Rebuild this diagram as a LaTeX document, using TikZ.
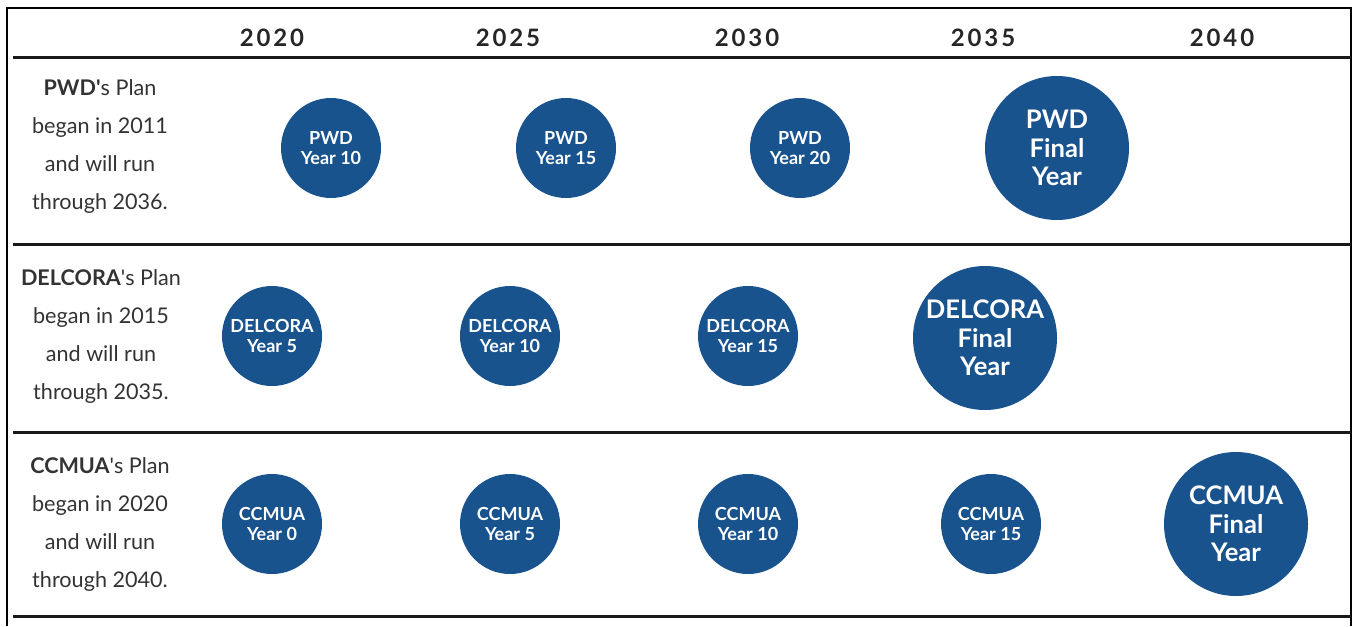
\documentclass[tikz,border=0pt]{standalone}
\usepackage{fontspec}
\setmainfont{Lato}
\usepackage{tikz}
\definecolor{planblue}{RGB}{24,83,141}
\definecolor{plantext}{RGB}{51,51,51}

\begin{document}
\begin{tikzpicture}[x=0.5pt, y=-0.5pt,
    yr/.style={font=\bfseries\fontsize{12}{14}\selectfont\addfontfeature{LetterSpace=12}, text=black!85},
    plan/.style={align=center, text=plantext, font=\fontsize{10.8}{19}\selectfont},
    dot/.style={shape=circle, fill=planblue, text=white, align=center, inner sep=0pt,
        minimum size=50pt, font=\bfseries\fontsize{9}{10}\selectfont},
    bigdot/.style={dot, minimum size=72pt, font=\bfseries\fontsize{12.8}{14.2}\selectfont}]
    \useasboundingbox (0,0) rectangle (1353,626);

    \draw[line width=1pt] (7,626) -- (7,8) -- (1351,8) -- (1351,626);
    \foreach \y in {58,244,432,616}
        \draw[line width=1.5pt, black!90] (13,\y) -- (1351,\y);

    \foreach \x/\yr in {272/2020, 508/2025, 747/2030, 983/2035, 1222/2040}
        \node[yr] (Y\yr) at (\x,38) {\yr};

    \node[plan] (Tpwd) at (100,147) {{\bfseries PWD\textquotesingle}s Plan\\began in 2011\\and will run\\through 2036.};
    \node[plan] (Tdel) at (101,337) {{\bfseries DELCORA}\textquotesingle s Plan\\began in 2015\\and will run\\through 2035.};
    \node[plan] (Tccm) at (100,525) {{\bfseries CCMUA}\textquotesingle s Plan\\began in 2020\\and will run\\through 2040.};

    \node[dot] (P1) at (331,148) {PWD\\Year 10};
    \node[dot] (P2) at (566,148) {PWD\\Year 15};
    \node[dot] (P3) at (800,148) {PWD\\Year 20};
    \node[bigdot] (P4) at (1057,148) {PWD\\Final\\Year};

    \node[dot] (D1) at (272,336) {DELCORA\\Year 5};
    \node[dot] (D2) at (510,336) {DELCORA\\Year 10};
    \node[dot] (D3) at (748,336) {DELCORA\\Year 15};
    \node[bigdot] (D4) at (985,338) {DELCORA\\Final\\Year};

    \node[dot] (C1) at (272,524) {CCMUA\\Year 0};
    \node[dot] (C2) at (510,524) {CCMUA\\Year 5};
    \node[dot] (C3) at (748,524) {CCMUA\\Year 10};
    \node[dot] (C4) at (991,524) {CCMUA\\Year 15};
    \node[bigdot] (C5) at (1236,524) {CCMUA\\Final\\Year};
\end{tikzpicture}
\end{document}
